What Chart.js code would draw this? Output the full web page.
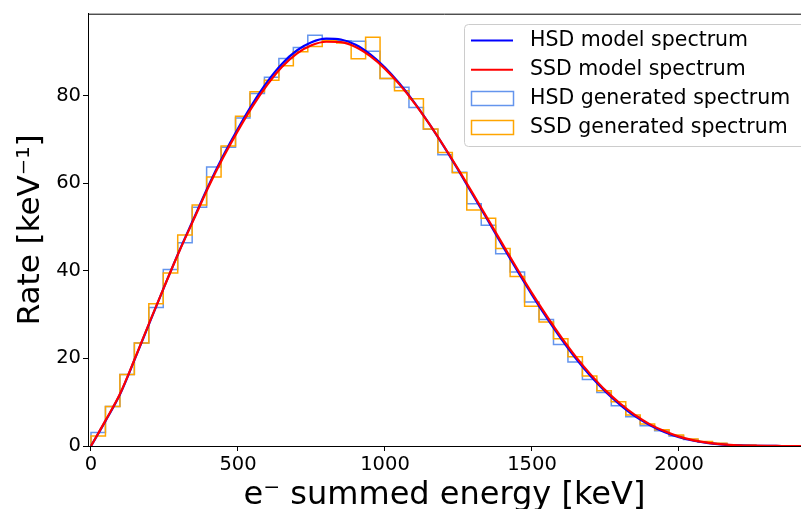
<!DOCTYPE html>
<html>
<head>
<meta charset="utf-8">
<script src="https://cdn.jsdelivr.net/npm/chart.js@4.4.0/dist/chart.umd.min.js"></script>
<style>
  html, body { margin: 0; padding: 0; background: #fff; overflow: hidden; }
  #wrap { width: 801px; height: 509px; }
</style>
</head>
<body>
<div id="wrap"><canvas id="spectrum" width="801" height="509"></canvas></div>
<script>
// Q-value of the decay and histogram binning (keV)
const qValue = 2458;
const nBins = 50;

// generated spectra, one value per bin
const hsdCounts = [3.1, 9.0, 16.3, 23.5, 31.6, 40.3, 46.4, 54.5, 63.7, 68.2,
  74.9, 80.5, 84.2, 88.5, 91.0, 93.8, 92.9, 92.5, 92.4, 90.1,
  83.9, 81.9, 77.3, 72.3, 66.5, 62.5, 55.3, 50.4, 43.9, 39.7,
  32.9, 28.9, 23.2, 19.2, 15.2, 12.2, 9.2, 6.7, 4.6, 3.5,
  2.3, 1.5, 0.9, 0.55, 0.3, 0.15, 0.07, 0.03, 0.01, 0];
const ssdCounts = [2.3, 9.0, 16.3, 23.5, 32.5, 39.5, 48.2, 55.0, 61.4, 68.5,
  75.3, 80.9, 83.5, 86.8, 90.0, 91.2, 92.5, 92.0, 88.4, 93.3,
  83.9, 81.1, 79.3, 72.4, 67.0, 62.4, 53.9, 52.0, 45.1, 38.7,
  31.9, 28.3, 24.5, 20.4, 16.0, 12.6, 10.1, 7.1, 5.0, 3.7,
  2.5, 1.6, 1.0, 0.6, 0.3, 0.15, 0.08, 0.03, 0.01, 0];

// model curves
const modelEnergy = [0, 50, 100, 150, 200, 250, 300, 350, 400, 450,
  500, 550, 600, 650, 700, 750, 800, 850, 900, 950,
  1000, 1050, 1100, 1150, 1200, 1250, 1300, 1350, 1400, 1450,
  1500, 1550, 1600, 1650, 1700, 1750, 1800, 1850, 1900, 1950,
  2000, 2050, 2100, 2150, 2200, 2250, 2300, 2350, 2400, 2450, 2500];
const hsdModel = [0, 5.8, 12.0, 20.0, 28.3, 36.5, 44.5, 52.0, 59.5, 66.3,
  72.5, 78.2, 83.2, 87.3, 90.3, 92.2, 93.0, 92.8, 91.6, 89.4,
  86.4, 82.7, 78.4, 73.6, 68.4, 62.9, 57.2, 51.5, 45.7, 40.0,
  34.5, 29.3, 24.4, 19.9, 15.9, 12.4, 9.4, 6.8, 4.8, 3.2,
  2.0, 1.2, 0.65, 0.32, 0.14, 0.05, 0.015, 0.003, 0, 0, 0];
const ssdModel = [0, 5.9, 12.1, 20.1, 28.4, 36.5, 44.4, 51.8, 59.2, 65.9,
  72.0, 77.6, 82.5, 86.6, 89.6, 91.5, 92.3, 92.2, 91.1, 89.0,
  86.1, 82.5, 78.3, 73.6, 68.5, 63.1, 57.5, 51.8, 46.1, 40.4,
  34.9, 29.7, 24.8, 20.3, 16.3, 12.7, 9.7, 7.1, 5.0, 3.4,
  2.15, 1.3, 0.72, 0.37, 0.17, 0.07, 0.02, 0.005, 0, 0, 0];

const xTicks = [0, 500, 1000, 1500, 2000];
const yTicks = [0, 20, 40, 60, 80];

const FONT = '"DejaVu Sans", sans-serif';

// step outline like matplotlib histtype='step'
const stepPoints = (counts) => {
  const w = qValue / nBins;
  const pts = [{ x: 0, y: 0 }];
  counts.forEach((c, i) => pts.push({ x: i * w, y: c }));
  pts.push({ x: nBins * w, y: 0 });
  return pts;
};
const curvePoints = (ys) => modelEnergy.map((e, i) => ({ x: e, y: ys[i] }));

const legendOrder = ['HSD model spectrum', 'SSD model spectrum', 'HSD generated spectrum', 'SSD generated spectrum'];

const framePlugin = {
  id: 'frameAndLegend',
  afterDraw(chart) {
    const ctx = chart.ctx;
    const area = chart.chartArea;
    ctx.save();
    // top spine
    ctx.strokeStyle = '#000';
    ctx.lineWidth = 1;
    ctx.beginPath();
    ctx.moveTo(area.left, area.top + 0.5);
    ctx.lineTo(area.right, area.top + 0.5);
    ctx.stroke();

    // legend box
    const bx = 464.5, by = 24.5, bw = 360, bh = 122, r = 4;
    ctx.beginPath();
    ctx.moveTo(bx + r, by);
    ctx.lineTo(bx + bw - r, by);
    ctx.arcTo(bx + bw, by, bx + bw, by + r, r);
    ctx.lineTo(bx + bw, by + bh - r);
    ctx.arcTo(bx + bw, by + bh, bx + bw - r, by + bh, r);
    ctx.lineTo(bx + r, by + bh);
    ctx.arcTo(bx, by + bh, bx, by + bh - r, r);
    ctx.lineTo(bx, by + r);
    ctx.arcTo(bx, by, bx + r, by, r);
    ctx.closePath();
    ctx.fillStyle = 'rgba(255,255,255,0.8)';
    ctx.fill();
    ctx.strokeStyle = '#cccccc';
    ctx.stroke();

    legendOrder.forEach((label, i) => {
      const ds = chart.data.datasets.find(d => d.label === label);
      const y = 40.5 + i * 29.2;
      ctx.strokeStyle = ds.borderColor;
      if (ds.stepped) {
        ctx.lineWidth = 1.5;
        ctx.strokeRect(471.5, Math.round(y) - 7.5, 42, 14);
      } else {
        ctx.lineWidth = 2;
        ctx.beginPath();
        ctx.moveTo(471, y);
        ctx.lineTo(513, y);
        ctx.stroke();
      }
      ctx.fillStyle = '#000';
      ctx.font = '20.5px ' + FONT;
      ctx.textBaseline = 'middle';
      ctx.textAlign = 'left';
      ctx.fillText(label, 530, y);
    });
    ctx.restore();
  }
};

new Chart(document.getElementById('spectrum').getContext('2d'), {
  type: 'line',
  data: {
    datasets: [
      { label: 'SSD model spectrum', data: curvePoints(ssdModel), borderColor: '#ff0000', borderWidth: 2.2, cubicInterpolationMode: 'monotone', order: 0 },
      { label: 'HSD model spectrum', data: curvePoints(hsdModel), borderColor: '#0000ff', borderWidth: 2.2, cubicInterpolationMode: 'monotone', order: 1 },
      { label: 'SSD generated spectrum', data: stepPoints(ssdCounts), borderColor: '#ffa500', borderWidth: 1.5, stepped: 'before', order: 2 },
      { label: 'HSD generated spectrum', data: stepPoints(hsdCounts), borderColor: '#6495ed', borderWidth: 1.5, stepped: 'before', order: 3 }
    ]
  },
  options: {
    responsive: false,
    animation: false,
    parsing: false,
    layout: { padding: { top: 13, right: 0, bottom: 0, left: 0 } },
    elements: { point: { radius: 0 }, line: { fill: false } },
    plugins: { legend: { display: false }, tooltip: { enabled: false } },
    scales: {
      x: {
        type: 'linear',
        min: -10.2,
        max: 2415,
        afterBuildTicks: s => { s.ticks = xTicks.map(v => ({ value: v })); },
        afterFit: s => { s.height = 63; },
        ticks: { font: { family: FONT, size: 19.5 }, color: '#000', padding: 2, maxRotation: 0, callback: v => String(v) },
        grid: { drawOnChartArea: false, drawTicks: true, tickLength: 5, color: '#000' },
        border: { display: true, color: '#000', width: 1 },
        title: { display: true, text: 'e⁻ summed energy [keV]', font: { family: FONT, size: 32, lineHeight: 0.85 }, color: '#000', padding: 0 }
      },
      y: {
        type: 'linear',
        min: 0,
        max: 98.7,
        afterBuildTicks: s => { s.ticks = yTicks.map(v => ({ value: v })); },
        afterFit: s => { s.width = 88; },
        ticks: { font: { family: FONT, size: 19.5 }, color: '#000', padding: 2, callback: v => String(v) },
        grid: { drawOnChartArea: false, drawTicks: true, tickLength: 5, color: '#000' },
        border: { display: true, color: '#000', width: 1 },
        title: { display: true, text: 'Rate [keV⁻¹]', font: { family: FONT, size: 31, lineHeight: 1 }, color: '#000', padding: { top: 15, bottom: 0 } }
      }
    }
  },
  plugins: [framePlugin]
});
</script>
</body>
</html>
